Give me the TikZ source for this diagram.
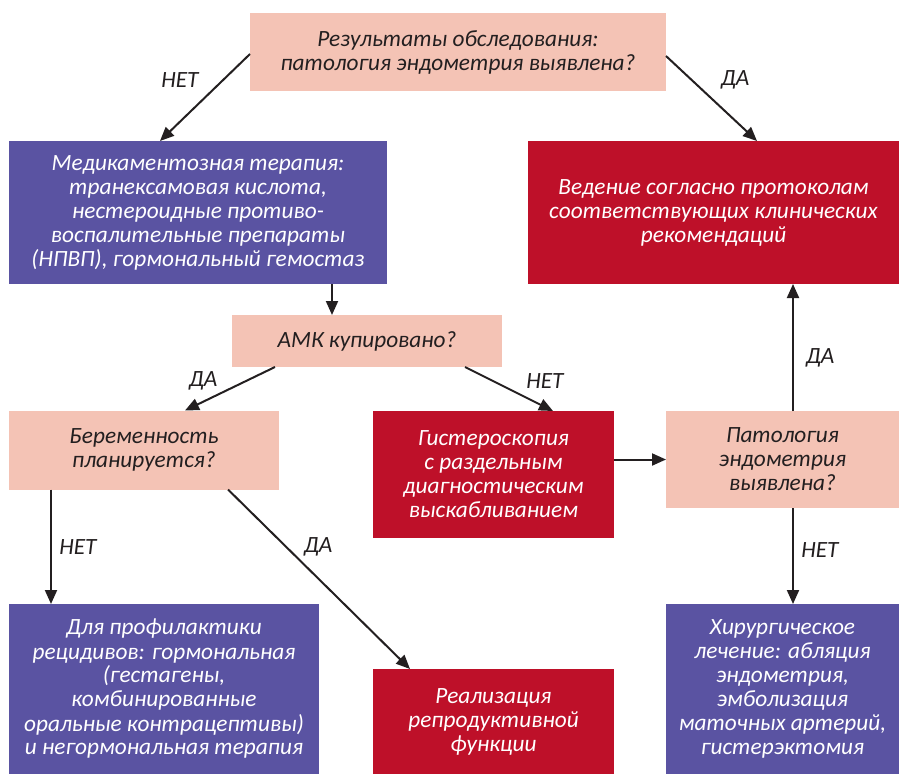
\documentclass[tikz,border=0pt]{standalone}
\usepackage{fontspec}
\setmainfont{Carlito}
\usetikzlibrary{arrows.meta}
\definecolor{pinkbox}{HTML}{F4C3B5}
\definecolor{purplebox}{HTML}{5A53A2}
\definecolor{redbox}{HTML}{BE1029}
\definecolor{ink}{HTML}{231F20}
\tikzset{
  every node/.style={font=\fontsize{23.3}{24}\selectfont\itshape, inner sep=0pt, outer sep=0pt, align=center},
  pinkstyle/.style={fill=pinkbox, text=ink},
  purplestyle/.style={fill=purplebox, text=white},
  redstyle/.style={fill=redbox, text=white},
  bx/.style n args={2}{minimum width=#1, minimum height=#2},
  arr/.style={draw=ink, line width=2pt, -{Triangle[length=14pt,width=12pt]}},
  lbl/.style={text=ink}
}
\begin{document}
\begin{tikzpicture}[x=1pt,y=-1pt]
\useasboundingbox (0,0) rectangle (899,776);
\node[pinkstyle, bx={416pt}{78pt}] (top) at (458,52) {Результаты обследования:\\патология эндометрия выявлена?};
\node[purplestyle, bx={378pt}{143pt}] (med) at (198,212.5) {Медикаментозная терапия:\\транексамовая кислота,\\нестероидные противо-\\воспалительные препараты\\(НПВП), гормональный гемостаз};
\node[redstyle, bx={371pt}{143pt}] (ved) at (713.5,212.5) {Ведение согласно протоколам\\соответствующих клинических\\рекомендаций};
\node[pinkstyle, bx={270pt}{52pt}] (amk) at (367,341) {АМК купировано?};
\node[pinkstyle, bx={270pt}{79pt}] (ber) at (144,450) {Беременность\\планируется?};
\node[redstyle, bx={241pt}{127pt}] (gis) at (493.5,474.5) {Гистероскопия\\с раздельным\\диагностическим\\выскабливанием};
\node[pinkstyle, bx={233pt}{97pt}] (pat) at (782.5,459.5) {Патология\\эндометрия\\выявлена?};
\node[purplestyle, bx={310pt}{170pt}] (prof) at (164,689) {Для профилактики\\рецидивов: гормональная\\(гестагены,\\комбинированные\\оральные контрацептивы)\\и негормональная терапия};
\node[redstyle, bx={241pt}{105pt}] (real) at (493.5,721.5) {Реализация\\репродуктивной\\функции};
\node[purplestyle, bx={233pt}{170pt}] (hir) at (782.5,689) {Хирургическое\\лечение: абляция\\эндометрия,\\эмболизация\\маточных артерий,\\гистерэктомия};

\draw[arr] ([yshift=-2pt]top.west) -- ([xshift=-38pt]med.north);
\draw[arr] ([yshift=-4pt]top.east) -- ([xshift=43.5pt]ved.north);
\draw[arr] ([xshift=-35pt]amk.north |- med.south) -- ([xshift=-35pt]amk.north);
\draw[arr] ([xshift=-92pt]amk.south) -- ([xshift=41pt]ber.north);
\draw[arr] ([xshift=98pt]amk.south) -- ([xshift=59.5pt]gis.north);
\draw[arr] ([xshift=-93pt]ber.south) -- ([xshift=-93pt]ber.south |- prof.north);
\draw[arr] ([xshift=84pt]ber.south) -- ([xshift=-83.5pt]real.north);
\draw[arr] (pat.west -| gis.east) -- (pat.west);
\draw[arr] ([xshift=10.5pt]pat.north) -- ([xshift=10.5pt]pat.north |- ved.south);
\draw[arr] ([xshift=10.5pt]pat.south) -- ([xshift=10.5pt]pat.south |- hir.north);

\node[lbl] (l1) at (180,80) {НЕТ};
\node[lbl] (l2) at (735,80) {ДА};
\node[lbl] (l3) at (203,381) {ДА};
\node[lbl] (l4) at (545,381) {НЕТ};
\node[lbl] (l5) at (78,547) {НЕТ};
\node[lbl] (l6) at (318,547) {ДА};
\node[lbl] (l7) at (820,358) {ДА};
\node[lbl] (l8) at (820,550) {НЕТ};
\end{tikzpicture}
\end{document}
